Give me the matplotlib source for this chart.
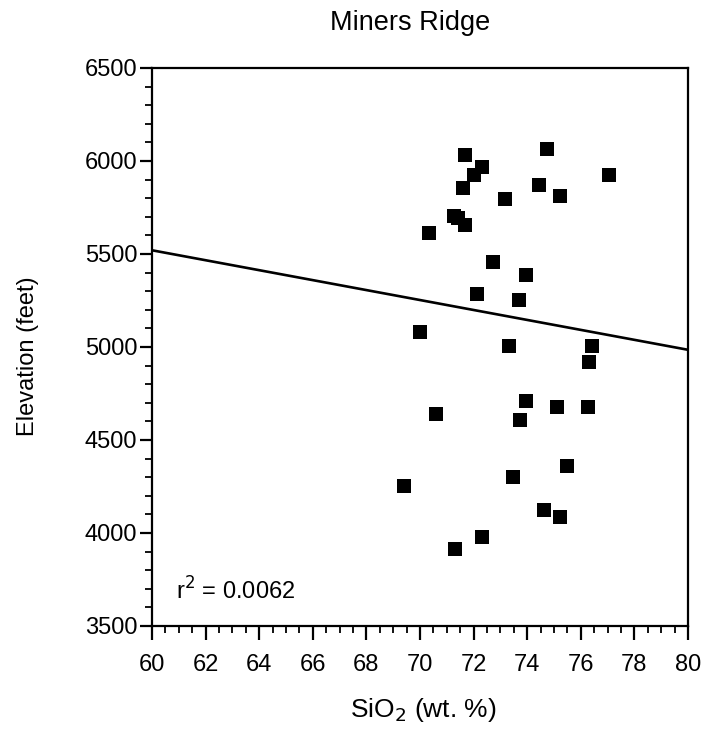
import numpy as np
import matplotlib
matplotlib.use('Agg')
import matplotlib.pyplot as plt
from matplotlib.ticker import MultipleLocator

plt.rcParams.update({
    'font.family': 'sans-serif',
    'font.sans-serif': ['Liberation Sans', 'DejaVu Sans'],
    'font.size': 17,
    'axes.linewidth': 1.6,
    'xtick.major.width': 1.6,
    'ytick.major.width': 1.6,
    'xtick.minor.width': 1.3,
    'ytick.minor.width': 1.3,
    'xtick.major.size': 10,
    'ytick.major.size': 9,
    'xtick.minor.size': 5,
    'ytick.minor.size': 5,
    'xtick.direction': 'out',
    'ytick.direction': 'out',
})

# SiO2 (wt. %) vs elevation (feet)
sio2 = [71.69, 72.31, 72.03, 71.60, 74.74, 77.04, 74.45, 75.23, 73.18, 71.26,
        71.41, 71.67, 70.33, 72.73, 73.95, 72.11, 73.70, 69.99, 73.33, 76.42,
        76.30, 73.94, 75.12, 76.27, 70.59, 73.73, 75.48, 73.48, 69.39, 74.64,
        75.22, 72.32, 71.31]
elevation = [6030, 5969, 5924, 5857, 6067, 5924, 5873, 5812, 5794, 5704,
             5692, 5657, 5614, 5455, 5386, 5284, 5253, 5082, 5006, 5008,
             4920, 4710, 4679, 4679, 4639, 4608, 4361, 4300, 4251, 4122,
             4088, 3981, 3916]

# regression line end points
fit_x = [60, 80]
fit_y = [5520, 4985]
r2_text = 'r$^2$ = 0.0062'

fig = plt.figure(figsize=(7.12, 7.35), dpi=100)
ax = fig.add_axes([152/712, 1 - 626/735, (688-152)/712, (626-68)/735])

ax.plot(fit_x, fit_y, color='black', lw=1.9, zorder=2)
ax.plot(sio2, elevation, linestyle='none', marker='s', markersize=9.8,
        markeredgewidth=0, color='black', zorder=3)

ax.set_xlim(60, 80)
ax.set_ylim(3500, 6500)
ax.xaxis.set_major_locator(MultipleLocator(2))
ax.xaxis.set_minor_locator(MultipleLocator(0.5))
ax.yaxis.set_major_locator(MultipleLocator(500))
ax.yaxis.set_minor_locator(MultipleLocator(100))
ax.tick_params(axis='x', which='major', labelsize=17, pad=10)
ax.tick_params(axis='y', which='major', labelsize=17, pad=1.5)

ax.set_xlabel('SiO$_2$ (wt. %)', fontsize=19)
ax.xaxis.set_label_coords(0.507, -0.125)
ax.set_ylabel('Elevation (feet)', fontsize=17)
ax.yaxis.set_label_coords(-0.21, 0.484)
ax.set_title('Miners Ridge', fontsize=19.5, pad=27, x=0.482)

ax.text(0.045, 0.048, r2_text, transform=ax.transAxes, fontsize=17,
        ha='left', va='baseline')

fig.savefig('out.png', dpi=100)
plt.close()
